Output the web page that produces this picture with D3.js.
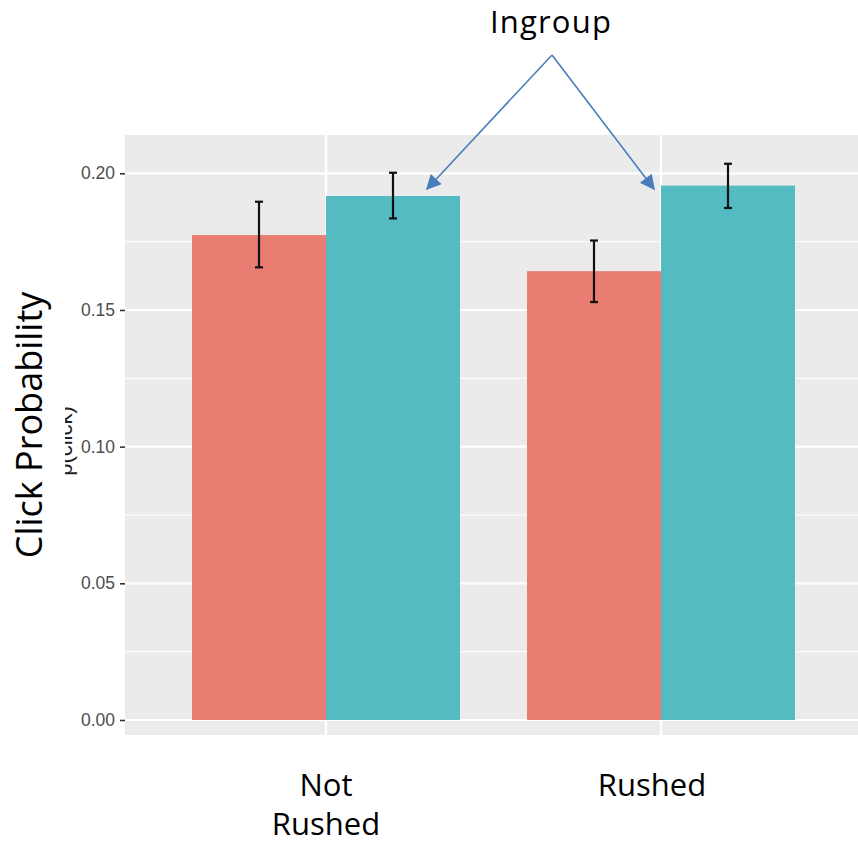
<!DOCTYPE html>
<html>
<head>
<meta charset="utf-8">
<script src="https://cdn.jsdelivr.net/npm/d3@7"></script>
<style>
  body { margin: 0; background: #fff; }
</style>
</head>
<body>
<script>
// chart values
var conditions = ["Not Rushed", "Rushed"];
var groups = ["Outgroup", "Ingroup"];
var probs = [[0.1774, 0.1917], [0.1642, 0.1955]];
var errLow = [[0.1656, 0.1835], [0.1529, 0.1873]];
var errHigh = [[0.1896, 0.2002], [0.1754, 0.2035]];
var yTicks = [0, 0.05, 0.10, 0.15, 0.20];
var yMinor = [0.025, 0.075, 0.125, 0.175];
var colors = ["#e97d72", "#55bbc2"];

var w = 858, h = 846;

var svg = d3.select("body").append("svg")
    .attr("width", w)
    .attr("height", h);

// panel spans 125..862 (ggplot expansion), category centres 335 apart
var x = d3.scalePoint()
    .domain(conditions)
    .range([326, 661]);
var xSub = d3.scaleBand().domain(groups).range([-134, 134]);

var y = d3.scaleLinear()
    .domain([0, 0.20])
    .range([720, 173.3]);

svg.append("rect")
    .attr("x", 125).attr("y", 135)
    .attr("width", 737).attr("height", 600)
    .attr("fill", "#ebebeb");

// minor grid
svg.selectAll("line.minor").data(yMinor).enter().append("line")
    .attr("x1", 125).attr("x2", 862)
    .attr("y1", d => y(d)).attr("y2", d => y(d))
    .attr("stroke", "#fff").attr("stroke-width", 1);

// major grid
svg.selectAll("line.major").data(yTicks).enter().append("line")
    .attr("x1", 125).attr("x2", 862)
    .attr("y1", d => y(d)).attr("y2", d => y(d))
    .attr("stroke", "#fff").attr("stroke-width", 2.2);

svg.selectAll("line.vgrid").data(conditions).enter().append("line")
    .attr("x1", d => x(d)).attr("x2", d => x(d))
    .attr("y1", 135).attr("y2", 735)
    .attr("stroke", "#fff").attr("stroke-width", 2.2);

// y axis
var yAxis = d3.axisLeft(y)
    .tickValues(yTicks)
    .tickFormat(d3.format(".2f"))
    .tickSize(5)
    .tickPadding(5);

var ga = svg.append("g")
    .attr("transform", "translate(125,0)")
    .call(yAxis);
ga.select(".domain").remove();
ga.selectAll(".tick line").attr("stroke", "#333").attr("stroke-width", 1.6);
ga.selectAll(".tick text")
    .attr("fill", "#4d4d4d")
    .attr("font-family", "Liberation Sans, Arial, sans-serif")
    .attr("font-size", 17.5);

// bars
var rows = [];
conditions.forEach(function(c, i){
  groups.forEach(function(g, j){
    rows.push({cond: c, group: g, p: probs[i][j], lo: errLow[i][j], hi: errHigh[i][j], col: colors[j]});
  });
});

svg.selectAll("rect.bar").data(rows).enter().append("rect")
    .attr("class", "bar")
    .attr("x", d => x(d.cond) + xSub(d.group))
    .attr("width", xSub.bandwidth())
    .attr("y", d => y(d.p))
    .attr("height", d => y(0) - y(d.p))
    .attr("fill", d => d.col);

// error bars
var eb = svg.selectAll("g.err").data(rows).enter().append("g")
    .attr("transform", d => "translate(" + (x(d.cond) + xSub(d.group) + xSub.bandwidth() / 2) + ",0)");
eb.append("line")
    .attr("x1", 0).attr("x2", 0)
    .attr("y1", d => y(d.lo)).attr("y2", d => y(d.hi))
    .attr("stroke", "#111").attr("stroke-width", 2.2);
eb.append("line")
    .attr("x1", -4).attr("x2", 4)
    .attr("y1", d => y(d.lo)).attr("y2", d => y(d.lo))
    .attr("stroke", "#111").attr("stroke-width", 2.2);
eb.append("line")
    .attr("x1", -4).attr("x2", 4)
    .attr("y1", d => y(d.hi)).attr("y2", d => y(d.hi))
    .attr("stroke", "#111").attr("stroke-width", 2.2);

// x labels
var font = "Open Sans, sans-serif";
svg.append("text").attr("x", 326).attr("y", 796)
    .attr("text-anchor", "middle").attr("font-family", font).attr("font-size", 31)
    .text("Not");
svg.append("text").attr("x", 326).attr("y", 835)
    .attr("text-anchor", "middle").attr("font-family", font).attr("font-size", 31)
    .text("Rushed");
svg.append("text").attr("x", 652).attr("y", 796)
    .attr("text-anchor", "middle").attr("font-family", font).attr("font-size", 31)
    .text("Rushed");

// leftover ggplot title, mostly covered
svg.append("text")
    .attr("transform", "translate(72,441) rotate(-90)")
    .attr("text-anchor", "middle")
    .attr("font-family", "Liberation Sans, Arial, sans-serif")
    .attr("font-size", 22)
    .attr("fill", "#222")
    .text("p(click)");
svg.append("rect").attr("x", 45).attr("y", 380).attr("width", 20).attr("height", 120).attr("fill", "#fff");

svg.append("text")
    .attr("transform", "translate(42,425) rotate(-90)")
    .attr("text-anchor", "middle")
    .attr("font-family", font)
    .attr("font-size", 36)
    .text("Click Probability");

// Ingroup annotation
svg.append("text").attr("x", 551).attr("y", 33)
    .attr("text-anchor", "middle").attr("font-family", font).attr("font-size", 31)
    .attr("letter-spacing", 1.2)
    .text("Ingroup");

var defs = svg.append("defs");
defs.append("marker")
    .attr("id", "arr")
    .attr("viewBox", "0 0 10 10")
    .attr("refX", 9).attr("refY", 5)
    .attr("markerWidth", 18).attr("markerHeight", 15)
    .attr("markerUnits", "userSpaceOnUse")
    .attr("orient", "auto")
  .append("path")
    .attr("d", "M0,0 L10,5 L0,10 z")
    .attr("fill", "#4a7ebb");

var apex = [552, 55];
var tips = [[427, 189], [654, 189]];
svg.selectAll("line.arrow").data(tips).enter().append("line")
    .attr("x1", apex[0]).attr("y1", apex[1])
    .attr("x2", d => d[0]).attr("y2", d => d[1])
    .attr("stroke", "#4a7ebb").attr("stroke-width", 1.6)
    .attr("marker-end", "url(#arr)");
</script>
</body>
</html>
